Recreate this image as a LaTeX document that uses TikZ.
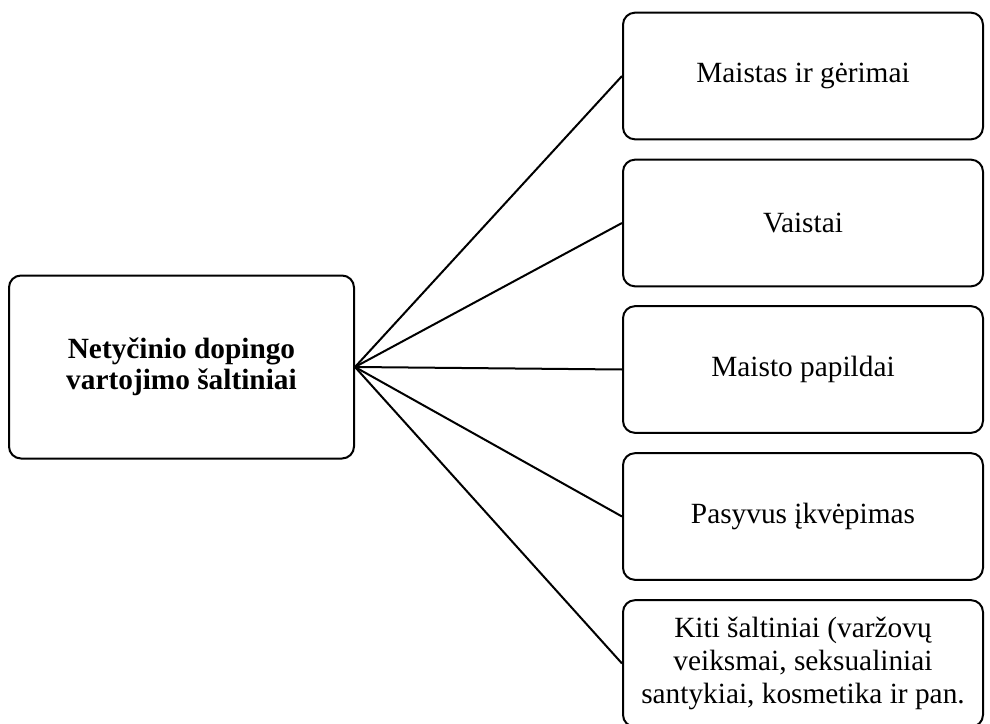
\documentclass[tikz,border=0pt]{standalone}
\usepackage{fontspec}
\setmainfont{Liberation Serif}
\usepackage{tikz}
\definecolor{boxblack}{RGB}{0,0,0}

\begin{document}
\begin{tikzpicture}[x=0.75pt, y=-0.75pt,
    srcbox/.style={draw=boxblack, line width=1.5pt, rounded corners=9pt, minimum width=258.75pt, minimum height=137.25pt, align=center, font=\fontsize{22}{23}\selectfont\bfseries},
    itembox/.style={draw=boxblack, line width=1.5pt, rounded corners=9pt, minimum width=270pt, minimum height=95pt, align=center, font=\fontsize{22}{24.5}\selectfont},
    link/.style={draw=boxblack, line width=1.5pt}]
\clip (0,0) rectangle (990,724);
\node[srcbox] (source) at (181.5,367) {Netyčinio dopingo\\vartojimo šaltiniai};
\node[itembox] (food) at (803,76) {Maistas ir gėrimai};
\node[itembox] (drugs) at (803,223) {Vaistai};
\node[itembox] (supplements) at (803,369.5) {Maisto papildai};
\node[itembox] (inhale) at (803,516.5) {Pasyvus įkvėpimas};
\node[itembox] (other) at (803,663.5) {Kiti šaltiniai (varžovų\\veiksmai, seksualiniai\\santykiai, kosmetika ir pan.};
\draw[link] (source.east) -- (food.west);
\draw[link] (source.east) -- (drugs.west);
\draw[link] (source.east) -- (supplements.west);
\draw[link] (source.east) -- (inhale.west);
\draw[link] (source.east) -- (other.west);
\end{tikzpicture}
\end{document}
